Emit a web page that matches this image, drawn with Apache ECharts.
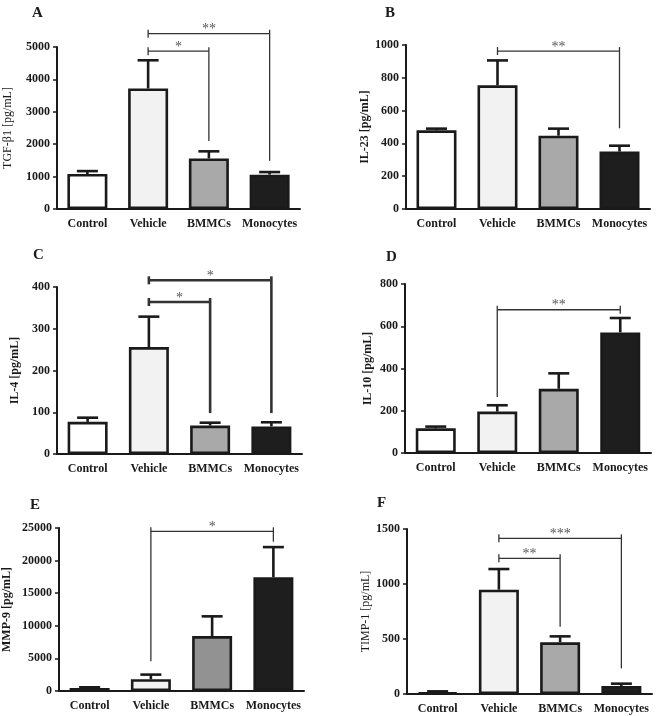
<!DOCTYPE html>
<html>
<head>
<meta charset="utf-8">
<script src="https://cdn.jsdelivr.net/npm/echarts@6/dist/echarts.min.js"></script>
<style>
html,body{margin:0;padding:0;background:#fff;}
#chart{width:656px;height:716px;}
</style>
</head>
<body>
<div id="chart"></div>
<script>
// ---------- data ----------
const categories = ['Control', 'Vehicle', 'BMMCs', 'Monocytes'];

const tgfMean  = [1080, 3720, 1560, 1060];
const tgfUpper = [1170, 4590, 1780, 1140];

const il23Mean  = [480, 754, 447, 350];
const il23Upper = [490, 906, 490, 386];

const il4Mean  = [77, 256, 68, 66];
const il4Upper = [87, 329, 75, 76];

const il10Mean  = [117, 196, 304, 571];
const il10Upper = [125, 226, 377, 639];

const mmp9Mean  = [460, 1800, 8420, 17450];
const mmp9Upper = [565, 2515, 11450, 22070];

const timp1Mean  = [15, 948, 470, 73];
const timp1Upper = [24, 1136, 524, 94];

// significance brackets: [fromIndex, toIndex, level, fromDrop, toDrop, label]
const sigA = [[1, 2, 4870, null, 2100, '*'], [1, 3, 5410, null, 1485, '**']];
const sigB = [[1, 3, 963, null, 492, '**']];
const sigC = [[1, 2, 364, null, 98, '*'], [1, 3, 416, null, 98, '*']];
const sigD = [[1, 3, 678, 265, null, '**']];
const sigE = [[1, 3, 24490, 4570, 22900, '*']];
const sigF = [[1, 2, 1233, null, 612, '**'], [1, 3, 1415, null, 233, '***']];

const yNames = ['TGF-β1 [pg/mL]', 'IL-23 [pg/mL]', 'IL-4 [pg/mL]', 'IL-10 [pg/mL]', 'MMP-9 [pg/mL]', 'TIMP-1 [pg/mL]'];
const yMax = [5000, 1000, 400, 800, 25000, 1500];
const yInterval = [1000, 200, 100, 200, 5000, 500];
const panelLetters = ['A', 'B', 'C', 'D', 'E', 'F'];

// ---------- layout / style ----------
const FONT = '"Liberation Serif", "Times New Roman", serif';
const barColors = ['#ffffff', '#f2f2f2', '#a9a9a9', '#1e1e1e'];
const barColorsE = ['#ffffff', '#f2f2f2', '#929292', '#1e1e1e'];
const grids = [
  {left: 57,  top: 47,  width: 243, height: 162},
  {left: 406, top: 45,  width: 244, height: 164},
  {left: 57,  top: 287, width: 245, height: 167},
  {left: 405, top: 284, width: 246, height: 169},
  {left: 59,  top: 528, width: 245, height: 163},
  {left: 407, top: 529, width: 245, height: 165}
];
const nameGaps = [43, 35, 36, 31, 46, 33];
const nameBold = ['normal', 'bold', 'bold', 'bold', 'bold', 'normal'];
const letterPos = [[32, 6], [385, 6], [33, 248], [386, 250], [30, 498], [377, 496]];
const bracketWidth = [1.3, 1.3, 2.6, 1.3, 1.3, 1.3];

const means = [tgfMean, il23Mean, il4Mean, il10Mean, mmp9Mean, timp1Mean];
const uppers = [tgfUpper, il23Upper, il4Upper, il10Upper, mmp9Upper, timp1Upper];
const sigs = [sigA, sigB, sigC, sigD, sigE, sigF];

const xAxes = [], yAxes = [], series = [], graphics = [];

for (let p = 0; p < 6; p++) {
  xAxes.push({
    type: 'category', gridIndex: p, data: categories,
    axisLine: {lineStyle: {color: '#1a1a1a', width: 2}},
    axisTick: {alignWithLabel: true, length: 4, lineStyle: {color: '#1a1a1a', width: 1.5}},
    axisLabel: {interval: 0, fontFamily: FONT, fontWeight: 'bold', fontSize: 12, color: '#1a1a1a', margin: 9}
  });
  yAxes.push({
    type: 'value', gridIndex: p, min: 0, max: yMax[p], interval: yInterval[p],
    name: yNames[p], nameLocation: 'middle', nameRotate: 90, nameGap: nameGaps[p],
    nameTextStyle: {fontFamily: FONT, fontWeight: nameBold[p], fontSize: 12, color: '#1a1a1a'},
    axisLine: {show: true, lineStyle: {color: '#1a1a1a', width: 2}},
    axisTick: {show: true, length: 4, lineStyle: {color: '#1a1a1a', width: 1.5}},
    axisLabel: {formatter: v => String(v), fontFamily: FONT, fontWeight: 'bold', fontSize: 12, color: '#1a1a1a', margin: 7},
    splitLine: {show: false}
  });
  const cols = p === 4 ? barColorsE : barColors;
  series.push({
    type: 'bar', xAxisIndex: p, yAxisIndex: p, barWidth: 40, z: 3,
    data: means[p].map((v, i) => ({value: v, itemStyle: {color: cols[i]}})),
    itemStyle: {borderColor: '#1a1a1a', borderWidth: 2.6},
    silent: true
  });
  // error bars (upper only)
  series.push({
    type: 'custom', xAxisIndex: p, yAxisIndex: p, z: 2, silent: true,
    data: means[p].map((v, i) => [i, v, uppers[p][i]]),
    renderItem: function (params, api) {
      const top = api.coord([api.value(0), api.value(2)]);
      const base = api.coord([api.value(0), api.value(1)]);
      const half = 10.5;
      return {
        type: 'group',
        children: [
          {type: 'line', shape: {x1: top[0], y1: top[1], x2: base[0], y2: base[1]},
           style: {stroke: '#1a1a1a', lineWidth: 2.6}},
          {type: 'line', shape: {x1: top[0] - half, y1: top[1], x2: top[0] + half, y2: top[1]},
           style: {stroke: '#1a1a1a', lineWidth: 2.6}}
        ]
      };
    }
  });
  // significance brackets
  const lw = bracketWidth[p];
  series.push({
    type: 'custom', xAxisIndex: p, yAxisIndex: p, z: 4, silent: true, clip: false,
    data: sigs[p].map(s => [s[0], s[1], s[2], s[3] == null ? -1 : s[3], s[4] == null ? -1 : s[4], s[5]]),
    renderItem: function (params, api) {
      const s = sigs[p][params.dataIndex];
      const a = api.coord([s[0], s[2]]);
      const b = api.coord([s[1], s[2]]);
      const ch = [];
      const col = '#333';
      ch.push({type: 'line', shape: {x1: a[0], y1: a[1], x2: b[0], y2: b[1]}, style: {stroke: col, lineWidth: lw}});
      const endLine = (x, lvlY, drop) => {
        const y2 = drop == null ? lvlY + 4 : api.coord([0, drop])[1];
        ch.push({type: 'line', shape: {x1: x, y1: lvlY - 4, x2: x, y2: y2}, style: {stroke: col, lineWidth: lw}});
      };
      endLine(a[0], a[1], s[3]);
      endLine(b[0], b[1], s[4]);
      ch.push({type: 'text', style: {text: s[5], x: (a[0] + b[0]) / 2, y: a[1] + 3,
        textAlign: 'center', textVerticalAlign: 'bottom', fill: '#555',
        font: '14px ' + FONT}});
      return {type: 'group', children: ch};
    }
  });
  graphics.push({type: 'text', left: letterPos[p][0], top: letterPos[p][1],
    style: {text: panelLetters[p], font: 'bold 15px ' + FONT, fill: '#1a1a1a'}});
}

const chart = echarts.init(document.getElementById('chart'), null, {renderer: 'canvas'});
chart.setOption({
  backgroundColor: '#ffffff',
  animation: false,
  grid: grids,
  xAxis: xAxes,
  yAxis: yAxes,
  series: series,
  graphic: graphics
});
</script>
</body>
</html>
